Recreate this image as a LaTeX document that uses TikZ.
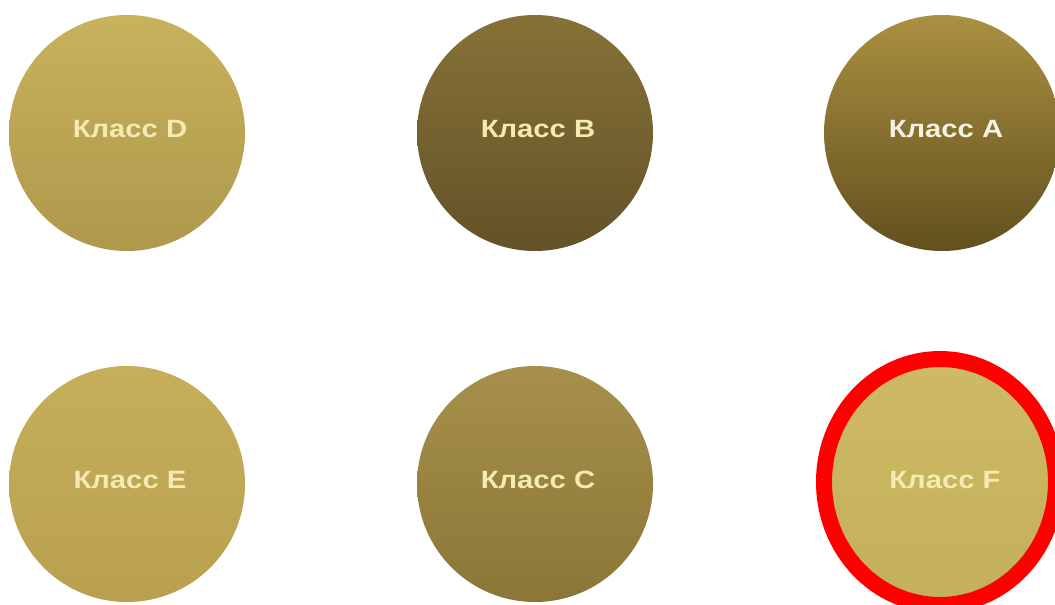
\documentclass[tikz,border=0pt]{standalone}
\usepackage{fontspec}
\setmainfont{Liberation Sans}
\definecolor{txt}{HTML}{F3EBB0}
\definecolor{txtA}{HTML}{F6F1E2}
\definecolor{ringred}{HTML}{FF0000}
\newcommand{\klabel}[1]{\scalebox{1.17}[1]{#1}}
\begin{document}
\begin{tikzpicture}[x=1pt,y=-1pt,
  ball/.style={circle,minimum size=236pt,inner sep=0pt,draw=none},
  lbl/.style={font=\bfseries\fontsize{25}{28}\selectfont,text=txt,inner sep=0pt}]
\useasboundingbox (0,0) rectangle (1055,605);
\fill[white] (0,0) rectangle (1055,605);
\node[ball,top color={rgb,255:red,200;green,178;blue,92},bottom color={rgb,255:red,174;green,152;blue,76}] (D) at (127,133) {};
\node[ball,top color={rgb,255:red,134;green,114;blue,55},bottom color={rgb,255:red,99;green,82;blue,40}] (B) at (535,133) {};
\node[ball,top color={rgb,255:red,170;green,144;blue,65},bottom color={rgb,255:red,98;green,80;blue,30}] (A) at (942,133) {};
\node[ball,top color={rgb,255:red,198;green,175;blue,90},bottom color={rgb,255:red,184;green,160;blue,80}] (E) at (127,484) {};
\node[ball,top color={rgb,255:red,166;green,144;blue,75},bottom color={rgb,255:red,140;green,118;blue,55}] (C) at (535,484) {};
\node[ball,top color={rgb,255:red,206;green,186;blue,100},bottom color={rgb,255:red,196;green,176;blue,90}] (F) at (940,482) {};
\node[lbl] (tD) at (130,129) {\klabel{Класс D}};
\node[lbl] (tB) at (538,129) {\klabel{Класс B}};
\node[lbl,text=txtA] (tA) at (946,129) {\klabel{Класс A}};
\node[lbl] (tE) at (130,480) {\klabel{Класс E}};
\node[lbl] (tC) at (538,480) {\klabel{Класс C}};
\node[lbl] (tF) at (945,480) {\klabel{Класс F}};
\draw[ringred,line width=16pt] (F.center) ellipse [x radius=116, y radius=123];
\end{tikzpicture}
\end{document}
